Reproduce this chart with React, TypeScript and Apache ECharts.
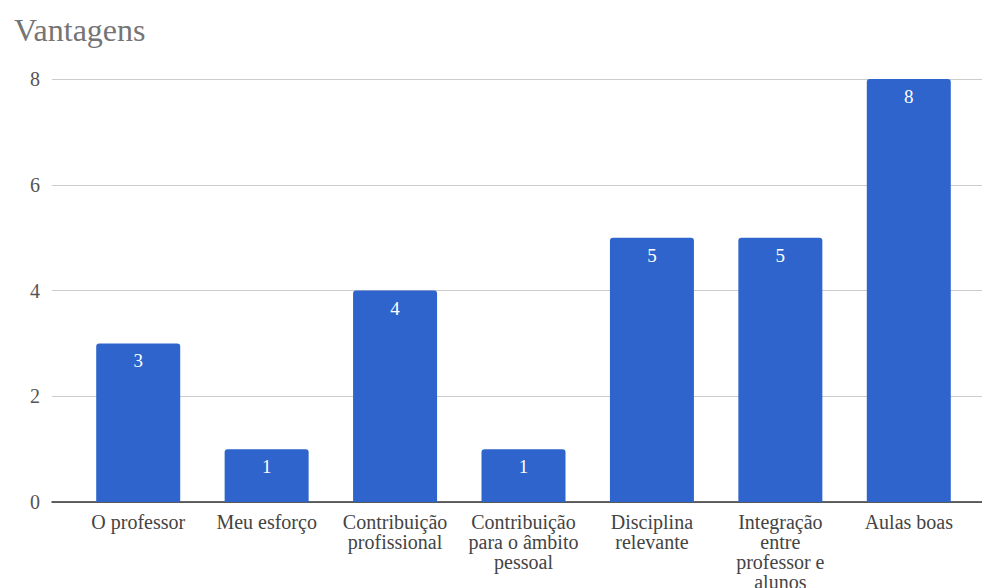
import React, { useEffect, useRef } from "react";
import * as echarts from "echarts";

// Survey answers: perceived advantages of the course
const categories = [
  "O professor",
  "Meu esforço",
  "Contribuição\nprofissional",
  "Contribuição\npara o âmbito\npessoal",
  "Disciplina\nrelevante",
  "Integração\nentre\nprofessor e\nalunos",
  "Aulas boas",
];
const counts = [3, 1, 4, 1, 5, 5, 8];
const yTicks = { min: 0, max: 8, interval: 2 };
const chartTitle = "Vantagens";

const FONT = "Liberation Serif";
const BAR_BLUE = "#2e64cb";

export default function App() {
  const ref = useRef<HTMLDivElement>(null);

  useEffect(() => {
    if (!ref.current) return;
    const chart = echarts.init(ref.current, undefined, { renderer: "svg" });
    chart.setOption({
      animation: false,
      backgroundColor: "#ffffff",
      textStyle: { fontFamily: FONT },
      title: {
        text: chartTitle,
        left: 9,
        top: 9,
        textStyle: { fontFamily: FONT, fontSize: 32, fontWeight: "normal", color: "#757575" },
      },
      grid: [
        // full-width frame carrying the value axis and gridlines
        { left: 52, right: 0, top: 79, bottom: 86, outerBoundsMode: "none", containLabel: false },
        // inset frame for the bars; the last wrapped label may run off the bottom edge
        { left: 74, right: 9, top: 79, bottom: 86, outerBoundsMode: "none", containLabel: false },
      ],
      xAxis: [
        {
          type: "category",
          gridIndex: 0,
          data: categories,
          axisLine: { show: true, lineStyle: { color: "#333333", width: 1.5 } },
          axisTick: { show: false },
          axisLabel: { show: false },
        },
        {
          type: "category",
          gridIndex: 1,
          data: categories,
          axisLine: { show: false },
          axisTick: { show: false },
          axisLabel: {
            margin: 10,
            fontFamily: FONT,
            fontSize: 20,
            lineHeight: 20,
            color: "#444444",
            interval: 0,
          },
        },
      ],
      yAxis: [
        {
          type: "value",
          gridIndex: 0,
          ...yTicks,
          axisLine: { show: false },
          axisTick: { show: false },
          axisLabel: { margin: 12, fontFamily: FONT, fontSize: 20, color: "#555555" },
          splitLine: { show: true, lineStyle: { color: "#cccccc", width: 1 } },
        },
        {
          type: "value",
          gridIndex: 1,
          ...yTicks,
          show: false,
          splitLine: { show: false },
        },
      ],
      series: [
        {
          type: "bar",
          xAxisIndex: 1,
          yAxisIndex: 1,
          data: counts,
          barWidth: 84,
          itemStyle: { color: BAR_BLUE, borderRadius: [3, 3, 0, 0] },
          label: {
            show: true,
            position: "insideTop",
            distance: 8,
            color: "#ffffff",
            fontFamily: FONT,
            fontSize: 19,
          },
        },
      ],
    });
    return () => chart.dispose();
  }, []);

  return (
    <div
      ref={ref}
      style={{ position: "absolute", left: 0, top: 0, width: 982, height: 588 }}
    />
  );
}
